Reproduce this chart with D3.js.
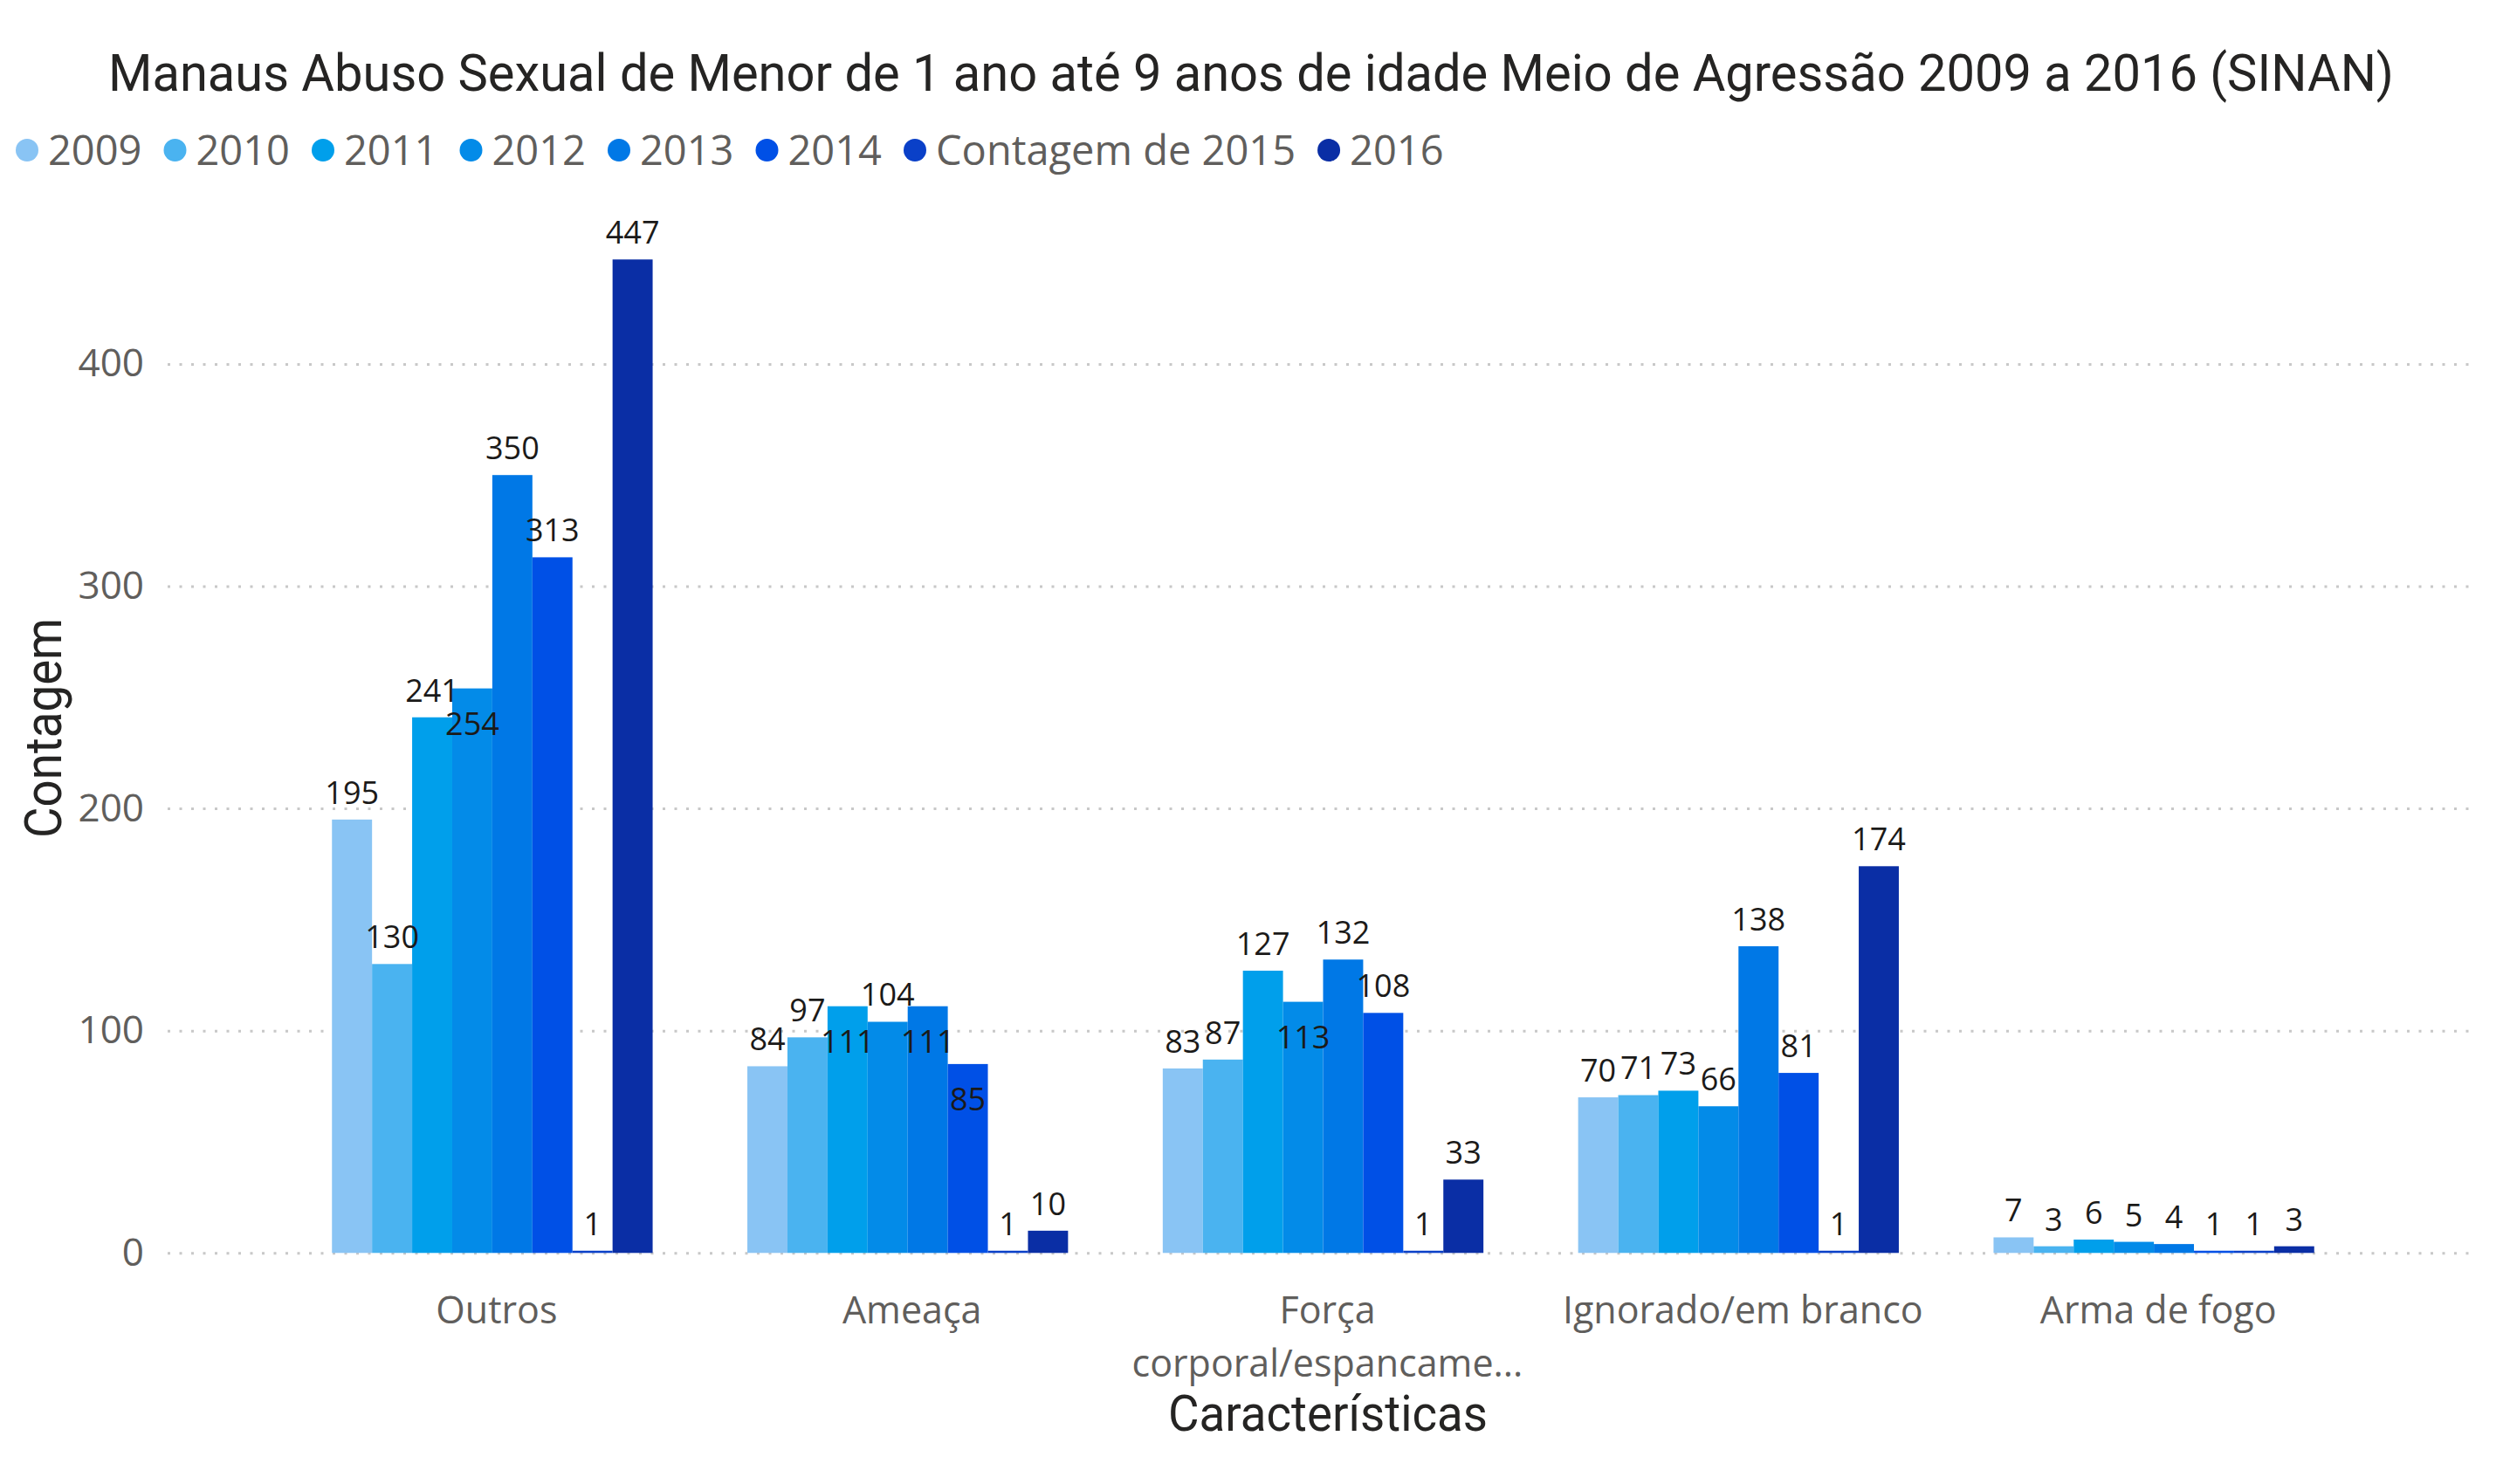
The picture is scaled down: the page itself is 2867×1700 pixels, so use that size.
<!DOCTYPE html>
<html>
<head>
<meta charset="utf-8">
<script src="https://cdn.jsdelivr.net/npm/d3@7"></script>
<style>
  body { margin: 0; background: #fff; }
  svg { display: block; }
</style>
</head>
<body>
<div id="chart"></div>
<script>
// data
var categories = ["Outros", "Ameaça", "Força corporal/espancame...", "Ignorado/em branco", "Arma de fogo"];
var categoryLines = [["Outros"], ["Ameaça"], ["Força", "corporal/espancame..."], ["Ignorado/em branco"], ["Arma de fogo"]];
var series = ["2009", "2010", "2011", "2012", "2013", "2014", "Contagem de 2015", "2016"];

var v2009 = [195, 84, 83, 70, 7];
var v2010 = [130, 97, 87, 71, 3];
var v2011 = [241, 111, 127, 73, 6];
var v2012 = [254, 104, 113, 66, 5];
var v2013 = [350, 111, 132, 138, 4];
var v2014 = [313, 85, 108, 81, 1];
var v2015 = [1, 1, 1, 1, 1];
var v2016 = [447, 10, 33, 174, 3];
var values = [v2009, v2010, v2011, v2012, v2013, v2014, v2015, v2016];

var yTicks = [0, 100, 200, 300, 400];
var colors = ["#89C4F4", "#4AB3F0", "#009FEB", "#038BE8", "#0078E6", "#0050E6", "#0A40C8", "#0A2EA5"];

var width = 2867, height = 1700;

var svg = d3.select("#chart").append("svg")
    .attr("width", width)
    .attr("height", height);

var x0 = d3.scaleBand()
    .domain(categories)
    .range([331, 2710])
    .paddingInner(0.228)
    .paddingOuter(0.114);

var x1 = d3.scaleBand()
    .domain(series)
    .range([0, x0.bandwidth()]);

var y = d3.scaleLinear()
    .domain([0, 480])
    .range([1435.3, 1435.3 - 480 * 2.546]);

var color = d3.scaleOrdinal().domain(series).range(colors);

// title
svg.append("text")
    .attr("x", 124)
    .attr("y", 104)
    .attr("textLength", 2618)
    .attr("lengthAdjust", "spacingAndGlyphs")
    .style("font-family", "Roboto, 'DejaVu Sans'")
    .style("font-size", "60px")
    .style("fill", "#252423")
    .text("Manaus Abuso Sexual de Menor de 1 ano até 9 anos de idade Meio de Agressão 2009 a 2016 (SINAN)");

// legend
var legend = svg.append("g");
var lx = 31;
series.forEach(function(s) {
    legend.append("circle")
        .attr("cx", lx)
        .attr("cy", 172)
        .attr("r", 13)
        .attr("fill", color(s));
    var t = legend.append("text")
        .attr("x", lx + 24)
        .attr("y", 189)
        .style("font-family", "'Open Sans', 'Noto Sans'")
        .style("font-size", "47px")
        .style("fill", "#605E5C")
        .text(s);
    lx = lx + 24 + t.node().getComputedTextLength() + 38;
});

// gridlines + y tick labels
var yAxis = svg.append("g")
    .attr("transform", "translate(192,0)")
    .call(d3.axisLeft(y).tickValues(yTicks).tickSize(-(2830 - 192)).tickPadding(27));

yAxis.select(".domain").remove();
yAxis.selectAll(".tick line")
    .attr("stroke", "#C8C8C8")
    .attr("stroke-width", 3)
    .attr("stroke-dasharray", "3,10.5");
yAxis.selectAll(".tick text")
    .style("font-family", "'Open Sans', 'Noto Sans'")
    .style("font-size", "44px")
    .style("fill", "#605E5C");

// bars (the groups sit a few px left of the label centres in the original)
var groups = svg.append("g").selectAll("g")
    .data(categories)
    .enter().append("g")
    .attr("transform", function(d) { return "translate(" + (x0(d) - 5) + ",0)"; });

groups.selectAll("rect")
    .data(function(d, i) { return series.map(function(s, j) { return {key: s, value: values[j][i]}; }); })
    .enter().append("rect")
    .attr("x", function(d) { return x1(d.key); })
    .attr("y", function(d) { return y(d.value); })
    .attr("width", x1.bandwidth())
    .attr("height", function(d) { return y(0) - y(d.value); })
    .attr("fill", function(d) { return color(d.key); });

// data labels: above the bar, or inside the top when it would hit the previous label
var labelSize = 36, labelBox = 41;
groups.each(function(cat, i) {
    var g = d3.select(this);
    var prev = null;
    series.forEach(function(s, j) {
        var v = values[j][i];
        var cx = x1(s) + x1.bandwidth() / 2;
        var t = g.append("text")
            .attr("x", cx)
            .attr("text-anchor", "middle")
            .style("font-family", "'Open Sans', 'Noto Sans'")
            .style("font-size", labelSize + "px")
            .style("fill", "#1B1A19")
            .text(v);
        var w = t.node().getComputedTextLength();
        var center = y(v) - 31;
        if (prev && Math.abs(prev.cx - cx) < (prev.w + w) / 2 && Math.abs(prev.center - center) < labelBox) {
            center = y(v) + 40;
        }
        t.attr("y", center + labelSize * 0.36);
        prev = {cx: cx, w: w, center: center};
    });
});

// x category labels
var xl = svg.append("g");
categories.forEach(function(c, i) {
    var t = xl.append("text")
        .attr("x", x0(c) + x0.bandwidth() / 2)
        .attr("y", 1516)
        .attr("text-anchor", "middle")
        .style("font-family", "'Open Sans', 'Noto Sans'")
        .style("font-size", "43px")
        .style("fill", "#605E5C");
    categoryLines[i].forEach(function(line, k) {
        t.append("tspan")
            .attr("x", x0(c) + x0.bandwidth() / 2)
            .attr("dy", k === 0 ? 0 : 61)
            .text(line);
    });
});

// axis titles
svg.append("text")
    .attr("x", 1521)
    .attr("y", 1639)
    .attr("text-anchor", "middle")
    .attr("textLength", 366)
    .attr("lengthAdjust", "spacingAndGlyphs")
    .style("font-family", "Roboto, 'DejaVu Sans'")
    .style("font-size", "57px")
    .style("fill", "#252423")
    .text("Características");

svg.append("text")
    .attr("transform", "translate(70,834) rotate(-90)")
    .attr("text-anchor", "middle")
    .attr("textLength", 252)
    .attr("lengthAdjust", "spacingAndGlyphs")
    .style("font-family", "Roboto, 'DejaVu Sans'")
    .style("font-size", "60px")
    .style("fill", "#252423")
    .text("Contagem");
</script>
</body>
</html>
